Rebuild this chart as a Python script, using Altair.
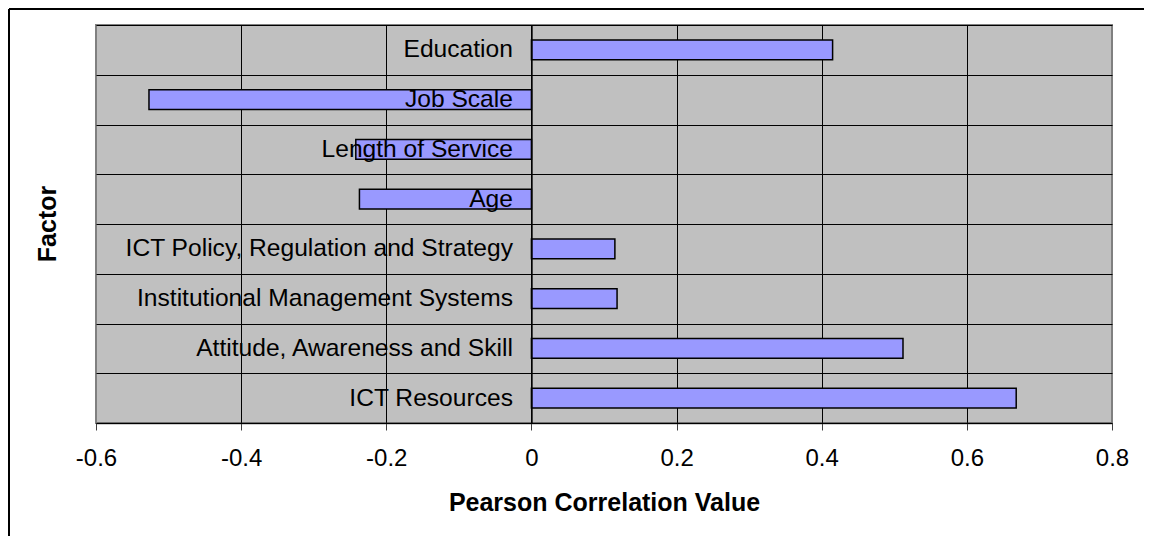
import altair as alt
import pandas as pd

factors = [
    "Education",
    "Job Scale",
    "Length of Service",
    "Age",
    "ICT Policy, Regulation and Strategy",
    "Institutional Management Systems",
    "Attitude, Awareness and Skill",
    "ICT Resources",
]
values = [0.415, -0.527, -0.242, -0.237, 0.115, 0.118, 0.512, 0.668]
x_ticks = [-0.6, -0.4, -0.2, 0, 0.2, 0.4, 0.6, 0.8]
x_title = "Pearson Correlation Value"
y_title = "Factor"

FONT = "Liberation Sans"
W, H = 1016, 398
x_min, x_max = -0.6, 0.8
zero_offset = -W * (0 - x_min) / (x_max - x_min)

df = pd.DataFrame({"Factor": factors, "Value": values})
one = pd.DataFrame({"t": [y_title]})

x_scale = alt.Scale(domain=[x_min, x_max], nice=False, zero=False)

bars = alt.Chart(df).mark_bar(
    height=alt.RelativeBandSize(0.4), fill="#9999FF", stroke="black", strokeWidth=1.5
).encode(
    x=alt.X(
        "Value:Q",
        scale=x_scale,
        axis=alt.Axis(
            values=x_ticks,
            labelExpr="toString(round(datum.value*10)/10)",
            labelFont=FONT, labelFontSize=24, labelColor="black",
            labelPadding=16, labelFlush=False, labelOverlap=False,
            tickSize=7, tickColor="#404040", tickWidth=1,
            domainColor="#404040", domainWidth=1.5,
            grid=True,
            gridColor={"condition": {"test": "datum.value <= -0.59 || datum.value >= 0.79", "value": "#808080"}, "value": "black"},
            gridWidth=1,
            title=x_title, titleFont=FONT, titleFontSize=25, titleFontWeight="bold",
            titleColor="black", titleY=87, titleBaseline="alphabetic",
        ),
    ),
    x2=alt.datum(0),
    y=alt.Y(
        "Factor:N",
        sort=factors,
        scale=alt.Scale(paddingInner=0, paddingOuter=0),
        axis=alt.Axis(
            title=None, orient="left", offset=zero_offset,
            labelFont=FONT, labelFontSize=24.6, labelColor="black",
            labelPadding=14, labelLimit=1000, labelBaseline="middle",
            tickBand="extent", tickSize=5, tickColor="black", tickWidth=1,
            domainColor="black", domainWidth=1.5,
            grid=True, gridColor="black", gridWidth=1, zindex=1,
        ),
    ),
)

factor_text = alt.Chart(one).mark_text(
    angle=270, font=FONT, fontSize=25, fontWeight="bold", color="black",
    align="center", baseline="middle",
).encode(text="t:N", x=alt.value(-48), y=alt.value(H / 2))

frame_left = alt.Chart(one).mark_rule(color="black", strokeWidth=2).encode(
    x=alt.value(-87), y=alt.value(-16), y2=alt.value(H + 200)
)
frame_top = alt.Chart(one).mark_rule(color="black", strokeWidth=2).encode(
    x=alt.value(-87), x2=alt.value(W + 200), y=alt.value(-16)
)

chart = alt.layer(bars, factor_text, frame_left, frame_top).properties(
    width=W,
    height=H,
    padding={"left": 88, "top": 17, "right": 32, "bottom": 113},
    autosize=alt.AutoSizeParams(type="none"),
    background="white",
).configure_view(fill="#C0C0C0", stroke="#808080", strokeWidth=2)

chart.save("out.html", embed_options={"renderer": "svg", "actions": False})
